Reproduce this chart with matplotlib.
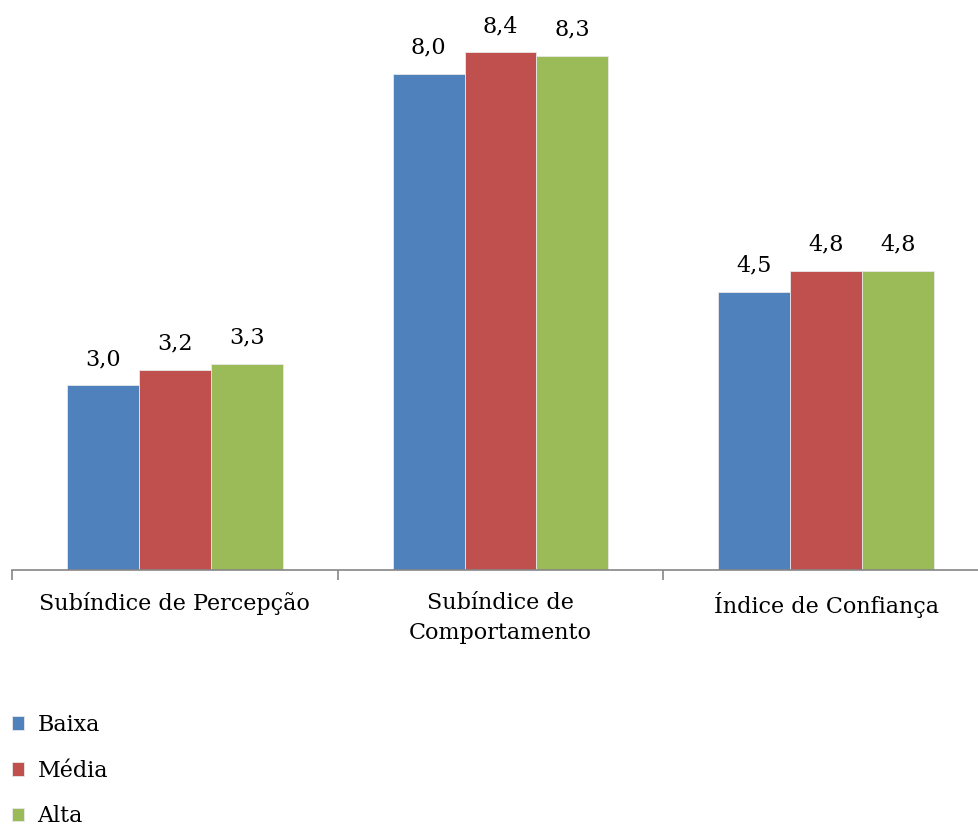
import matplotlib.pyplot as plt
import numpy as np

plt.rcParams['font.family'] = ['DejaVu Serif']

categories = ['Subíndice de Percepção', 'Subíndice de\nComportamento', 'Índice de Confiança']
series = ['Baixa', 'Média', 'Alta']
baixa = [2.99, 8.03, 4.50]
media = [3.24, 8.38, 4.84]
alta = [3.34, 8.32, 4.84]
colors = ['#4F81BD', '#C0504D', '#9BBB59']

W, H = 979, 830
fig = plt.figure(figsize=(W / 100, H / 100), dpi=100)
# axes: x from 12px to 989px, baseline at 570px, 9 units tall (~61.7 px/unit)
ax = fig.add_axes([12 / W, (H - 570) / H, 977 / W, 556 / H])

x = np.arange(len(categories))
bw = 0.221
for i, (vals, c, name) in enumerate(zip([baixa, media, alta], colors, series)):
    bars = ax.bar(x + (i - 1) * bw, vals, bw, color=c, edgecolor='#E8E8E8',
                  linewidth=0.6, label=name)
    for b, v in zip(bars, vals):
        ax.annotate(f'{v:.1f}'.replace('.', ','),
                    (b.get_x() + b.get_width() / 2, v),
                    xytext=(0, 11), textcoords='offset points',
                    ha='center', va='bottom', fontsize=16)

ax.set_xlim(-0.5, 2.5)
ax.set_ylim(0, 9)
for s in ['top', 'right', 'left']:
    ax.spines[s].set_visible(False)
ax.spines['bottom'].set_color('#868686')
ax.spines['bottom'].set_linewidth(1.2)
ax.set_yticks([])
ax.set_xticks([-0.5, 0.5, 1.5, 2.5])
ax.set_xticklabels([])
ax.tick_params(axis='x', direction='out', length=7, color='#868686', width=1.2)
ax.set_xticks(x, minor=True)
ax.set_xticklabels(categories, minor=True, fontsize=16, linespacing=1.45)
ax.tick_params(axis='x', which='minor', length=0, pad=16)

fig.legend(loc='upper left', bbox_to_anchor=(3 / W, 1 - 705 / H),
           frameon=False, fontsize=16, handlelength=0.55, handleheight=0.55,
           handletextpad=0.6, labelspacing=1.07, borderaxespad=0)

fig.savefig('out.png', dpi=100)
